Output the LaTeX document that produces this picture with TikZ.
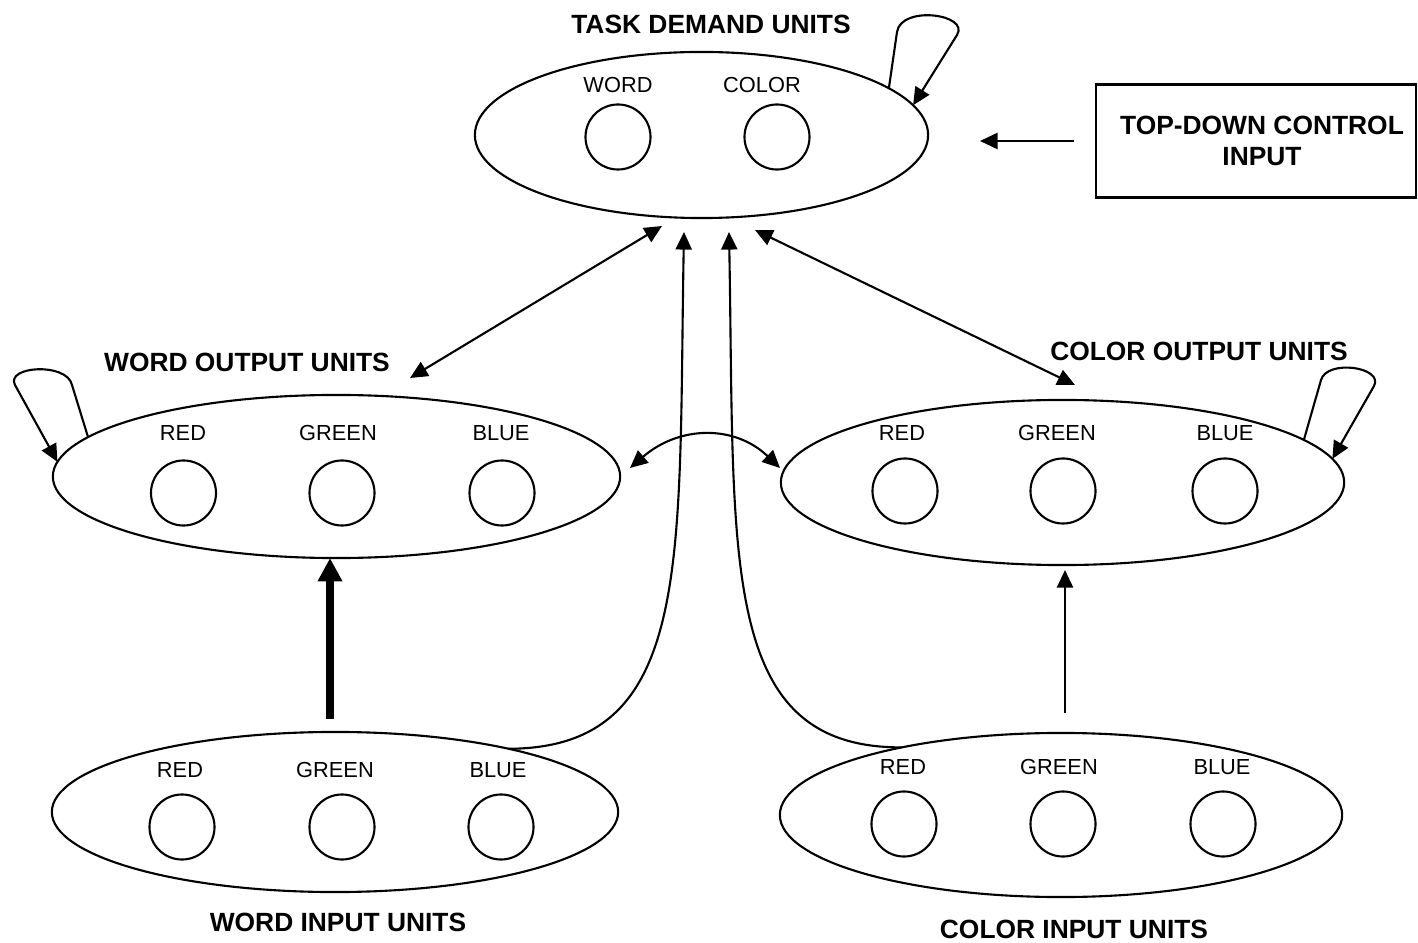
\documentclass[tikz,border=0pt]{standalone}
\usepackage{fontspec}
\setmainfont{Liberation Sans}
\usetikzlibrary{arrows.meta,positioning,shapes.geometric}
\tikzset{
  pool/.style={draw,ellipse,line width=0.6pt,inner sep=0pt,outer sep=0pt},
  cell/.style={draw,circle,line width=0.6pt,minimum size=0.65cm,inner sep=0pt},
  lbl/.style={font=\fontsize{6.2}{7}\selectfont,inner sep=0pt},
  ttl/.style={font=\fontsize{7.5}{9}\selectfont\bfseries,inner sep=0pt,align=center},
  ctrlbox/.style={draw,line width=0.7pt,minimum width=3.2cm,minimum height=1.13cm,inner sep=0pt},
  arr/.style={-{Triangle[length=5pt,width=4.6pt]},line width=0.6pt},
  dbl/.style={{Triangle[length=5pt,width=4.6pt]}-{Triangle[length=5pt,width=4.6pt]},line width=0.6pt},
  fat/.style={-{Triangle[length=6.6pt,width=6.6pt]},line width=2.3pt}
}

\begin{document}
\begin{tikzpicture}[x=0.01cm,y=-0.01cm]
  \useasboundingbox (0,0) rectangle (1418,943);

  % task demand layer
  \node[ttl] (tdT) at (711,24) {TASK DEMAND UNITS};
  \node[pool,minimum width=4.53cm,minimum height=1.66cm] (td) at (701.5,135) {};
  \node[cell] (tdW) at (618,137) {};
  \node[cell] (tdC) at (777,137) {};
  \node[lbl] (tdWl) at (618,85) {WORD};
  \node[lbl] (tdCl) at (762,85) {COLOR};
  \node[ctrlbox,ttl] (tdc) at (1256,141) {\hspace*{0.12cm}TOP-DOWN CONTROL\\\hspace*{0.12cm}INPUT};

  % output layer
  \node[ttl] (woT) at (247,362) {WORD OUTPUT UNITS};
  \node[pool,minimum width=5.67cm,minimum height=1.63cm] (wo) at (336.5,476.5) {};
  \node[cell] (woR) at (183.5,493) {};
  \node[cell] (woG) at (342,493) {};
  \node[cell] (woB) at (502,493) {};
  \node[lbl] (woRl) at (183,433) {RED};
  \node[lbl] (woGl) at (338,433) {GREEN};
  \node[lbl] (woBl) at (501,433) {BLUE};

  \node[ttl] (coT) at (1199,351) {COLOR OUTPUT UNITS};
  \node[pool,minimum width=5.63cm,minimum height=1.65cm] (co) at (1062.5,482.5) {};
  \node[cell] (coR) at (905,491) {};
  \node[cell] (coG) at (1063,491) {};
  \node[cell] (coB) at (1225,491) {};
  \node[lbl] (coRl) at (902,433) {RED};
  \node[lbl] (coGl) at (1057,433) {GREEN};
  \node[lbl] (coBl) at (1225,433) {BLUE};

  % input layer
  \node[pool,minimum width=5.66cm,minimum height=1.60cm] (wi) at (335,812) {};
  \node[cell] (wiR) at (182,827) {};
  \node[cell] (wiG) at (342,827) {};
  \node[cell] (wiB) at (501,827) {};
  \node[lbl] (wiRl) at (180,770) {RED};
  \node[lbl] (wiGl) at (335,770) {GREEN};
  \node[lbl] (wiBl) at (498,770) {BLUE};
  \node[ttl] (wiT) at (338,922) {WORD INPUT UNITS};

  \node[pool,minimum width=5.62cm,minimum height=1.64cm] (ci) at (1061,815) {};
  \node[cell] (ciR) at (904,824) {};
  \node[cell] (ciG) at (1063,824) {};
  \node[cell] (ciB) at (1223,824) {};
  \node[lbl] (ciRl) at (903,767) {RED};
  \node[lbl] (ciGl) at (1059,767) {GREEN};
  \node[lbl] (ciBl) at (1222,767) {BLUE};
  \node[ttl] (ciT) at (1074,929) {COLOR INPUT UNITS};

  % free ends of connectors
  \coordinate (tdIn) at (980,141);
  \coordinate (tdL) at (662,226);
  \coordinate (tdR) at (755,230);
  \coordinate (tdWin) at (684,232);
  \coordinate (tdCin) at (729,232);
  \coordinate (woUp) at (410,378);
  \coordinate (coUp) at (1075,385);
  \coordinate (woSide) at (630,468);
  \coordinate (coSide) at (780,468);
  \coordinate (wiUp) at (330,719);
  \coordinate (ciUp) at (1065,713);

  % connectors
  \draw[arr,shorten <=0.21cm] (tdc.west) -- (tdIn);
  \draw[dbl] (woUp) -- (tdL);
  \draw[dbl] (coUp) -- (tdR);
  \draw[dbl] (woSide) .. controls (680,425) and (735,425) .. (coSide);
  \draw[fat] (wiUp) -- (wiUp |- wo.south);
  \draw[arr,shorten >=0.05cm] (ciUp) -- (ciUp |- co.south);
  \draw[arr] (wi.20) .. controls (695,748) and (678,560) .. (tdWin);
  \draw[arr] (ci.157) .. controls (718,748) and (735,560) .. (tdCin);

  % self loops
  \draw[arr] (td.14) -- (897,32) .. controls (901,5) and (970,14) .. (957,35) -- (td.8);
  \draw[arr] (wo.171) -- (72,385) .. controls (67,362) and (5,366) .. (15,385) -- (wo.177);
  \draw[arr] (co.10) -- (1321,380) .. controls (1327,359) and (1384,367) .. (1374,386) -- (co.5);
\end{tikzpicture}
\end{document}
